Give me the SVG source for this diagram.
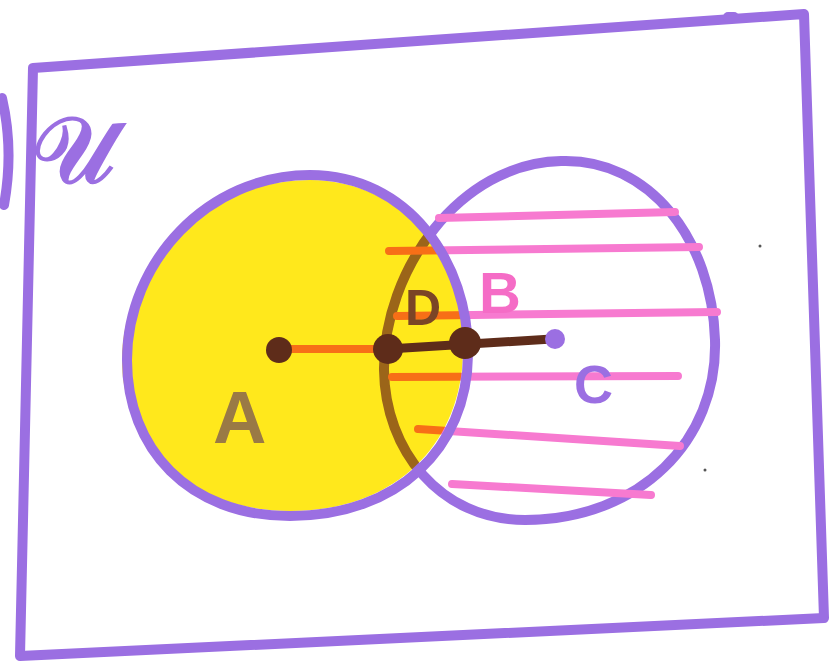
<svg xmlns="http://www.w3.org/2000/svg" width="830" height="666" viewBox="0 0 830 666">
<style>
.pur{fill:none;stroke:#9b6fe2;stroke-width:10;stroke-linecap:round;stroke-linejoin:round}
.stripe{fill:none;stroke:#f77ad0;stroke-width:8;stroke-linecap:round}
.lbl{font-family:"Liberation Sans",Arial,sans-serif;font-weight:bold}
.dot{fill:#5e2c1a}
</style>
<rect width="830" height="666" fill="#ffffff"/>
<g id="universe">
<path class="pur" d="M33,68 L804,14 L824,618 L20,656 Z"/>
<path class="pur" stroke-width="12" d="M728,17 L734,17"/>
<path class="pur" stroke-width="8" d="M2,98 Q14,150 4,205"/>
<text class="lbl" x="32" y="182" font-size="92" font-weight="normal" fill="#9b6fe2" font-family="DejaVu Sans, sans-serif">𝒰</text>
</g>
<g id="setB">
<path class="pur" d="M561,161 C650,158 712,240 715,340 C718,440 640,520 525,520 C440,520 385,450 384,370 C383,270 460,163 561,161 Z"/>
<g id="stripes">
<path class="stripe" d="M439,218 L675,212"/>
<path class="stripe" d="M389,251 L699,247"/>
<path class="stripe" d="M397,316 L717,312"/>
<path class="stripe" d="M285,349 L390,349"/>
<path class="stripe" d="M392,377 L678,376"/>
<path class="stripe" d="M418,429 L680,446"/>
<path class="stripe" d="M452,484 L651,495"/>
</g>
</g>
<g id="setA">
<path d="M310,180 C405,180 466,262 463,355 C460,445 395,511 290,511 C190,511 122,445 122,360 C122,265 205,180 310,180 Z" fill="#ffe81c" style="mix-blend-mode:multiply"/>
<path class="pur" d="M310,175 C408,175 469,262 468,355 C467,448 398,516 290,516 C188,516 127,448 127,360 C127,262 208,175 310,175 Z"/>
</g>
<g id="connectors">
<path d="M388,349 L552,339" fill="none" stroke="#5e2c1a" stroke-width="9" stroke-linecap="round"/>
</g>
<g id="pointA"><circle class="dot" cx="279" cy="350" r="13"/></g>
<g id="pointD1"><circle class="dot" cx="388" cy="349" r="15"/></g>
<g id="pointD2"><circle class="dot" cx="465" cy="343" r="16"/></g>
<g id="pointC"><circle cx="555" cy="339" r="10" fill="#9b6fe2"/></g>
<g id="labels">
<text class="lbl" x="213" y="443" font-size="74" fill="#9a7a45">A</text>
<text class="lbl" x="479" y="313" font-size="58" fill="#f56cc6">B</text>
<text class="lbl" x="405" y="325" font-size="50" fill="#7b4526">D</text>
<text class="lbl" x="574" y="403" font-size="54" font-weight="normal" fill="#9b6fe2">C</text>
</g>
<circle cx="760" cy="246" r="1.5" fill="#555"/>
<circle cx="705" cy="470" r="1.5" fill="#555"/>
</svg>
